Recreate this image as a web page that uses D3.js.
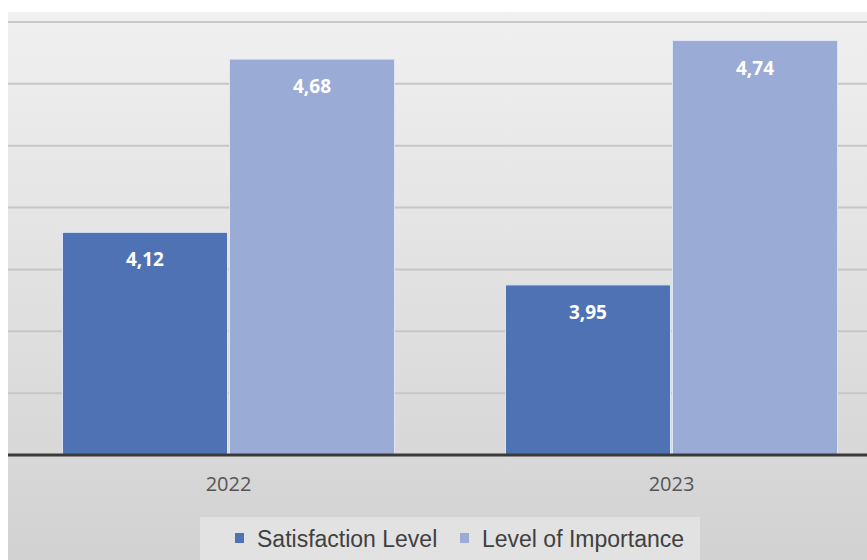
<!DOCTYPE html>
<html><head><meta charset="utf-8">
<script src="https://cdn.jsdelivr.net/npm/d3@7"></script>
<style>html,body{margin:0;padding:0;background:#fff;}svg{display:block;}</style>
</head><body>
<script>
const categories = ["2022", "2023"];
const seriesNames = ["Satisfaction Level", "Level of Importance"];
const satisfaction = [4.12, 3.95];
const importance = [4.68, 4.74];
const labels = [["4,12", "4,68"], ["3,95", "4,74"]];
const yTicks = [3.6, 3.8, 4.0, 4.2, 4.4, 4.6, 4.8];
const colors = ["#4f72b4", "#9aabd6"];

const W = 867, H = 560;
const svg = d3.select("body").append("svg").attr("width", W).attr("height", H);
const defs = svg.append("defs");
const grad = defs.append("linearGradient").attr("id", "bg").attr("x1", 0).attr("y1", 0).attr("x2", 0).attr("y2", 1);
grad.append("stop").attr("offset", "0%").attr("stop-color", "#f0f0f0");
grad.append("stop").attr("offset", "100%").attr("stop-color", "#d2d2d2");
svg.append("rect").attr("x", 8).attr("y", 12).attr("width", W - 8).attr("height", H - 12).attr("fill", "url(#bg)");

const x0 = d3.scaleBand().domain(categories).range([7, 893]).paddingInner(0).paddingOuter(0);
const x1 = d3.scaleBand().domain(seriesNames).range([0, x0.bandwidth()]).paddingInner(0.012).paddingOuter(0.332);
const y = d3.scaleLinear().domain([3.4, 4.8]).range([455, 22]);

// gridlines
const g = svg.append("g");
g.selectAll("line.grid").data(yTicks).join("line")
  .attr("x1", 8).attr("x2", W).attr("y1", d => y(d)).attr("y2", d => y(d))
  .attr("stroke", "#c6c6c6").attr("stroke-width", 2);

const data = categories.map((c, i) => ({cat: c, vals: [satisfaction[i], importance[i]], labs: labels[i]}));
const groups = svg.append("g").selectAll("g").data(data).join("g")
  .attr("transform", d => `translate(${x0(d.cat)},0)`);
groups.selectAll("rect").data(d => d.vals.map((v, j) => ({v, j, s: seriesNames[j]}))).join("rect")
  .attr("x", d => x1(d.s)).attr("width", x1.bandwidth())
  .attr("y", d => y(d.v)).attr("height", d => y(3.4) - y(d.v))
  .attr("fill", d => colors[d.j]).attr("stroke", "#dfe6f5").attr("stroke-width", 1);
groups.selectAll("text").data(d => d.vals.map((v, j) => ({v, j, s: seriesNames[j], t: d.labs[j]}))).join("text")
  .attr("x", d => x1(d.s) + x1.bandwidth() / 2).attr("y", d => y(d.v) + 34)
  .attr("text-anchor", "middle").attr("fill", "#ffffff")
  .attr("font-family", "'Open Sans', sans-serif").attr("font-weight", "bold").attr("font-size", 19)
  .text(d => d.t);

// baseline
svg.append("line").attr("x1", 8).attr("x2", W).attr("y1", y(3.4)).attr("y2", y(3.4))
  .attr("stroke", "#3a3a3a").attr("stroke-width", 3);

// x axis labels
const xAxis = d3.axisBottom(x0).tickSize(0).tickPadding(22);
const ax = svg.append("g").attr("transform", `translate(0,${y(3.4)})`).call(xAxis);
ax.select(".domain").remove();
ax.selectAll("text").attr("font-family", "'Open Sans', sans-serif").attr("font-size", 20).attr("fill", "#555");

// legend
const lg = svg.append("g");
lg.append("rect").attr("x", 200).attr("y", 517).attr("width", 500).attr("height", 43).attr("fill", "#e2e2e2");
const items = [{n: seriesNames[0], x: 235}, {n: seriesNames[1], x: 460}];
items.forEach((it, i) => {
  lg.append("rect").attr("x", it.x).attr("y", 533).attr("width", 9).attr("height", 10).attr("fill", colors[i]);
  lg.append("text").attr("x", it.x + 22).attr("y", 547).attr("font-family", "'Liberation Sans', Arial, sans-serif")
    .attr("font-size", 23).attr("fill", "#404040").text(it.n);
});
</script>
</body></html>
